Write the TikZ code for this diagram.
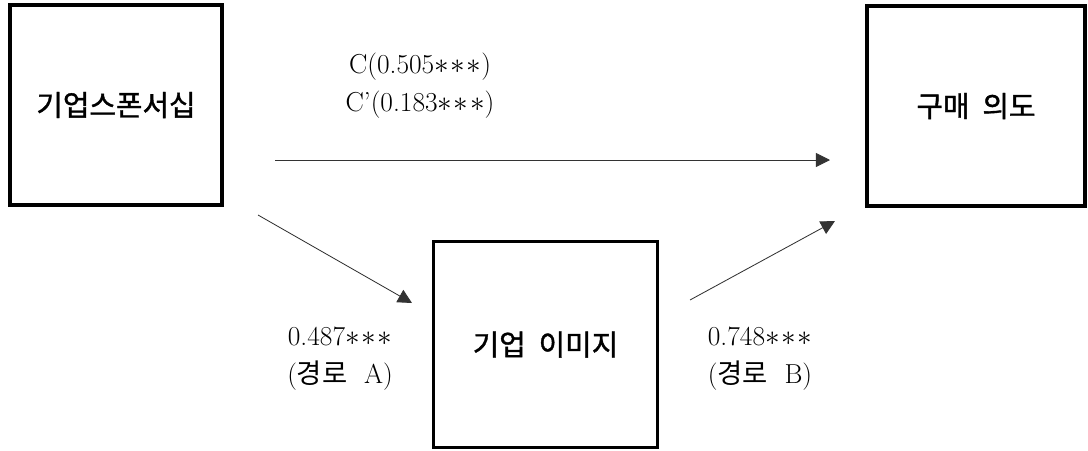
\documentclass[tikz,border=0pt]{standalone}
\usepackage{fontspec}
\usepackage{tikz}
\usetikzlibrary{arrows.meta,positioning}
\newfontfamily\cjk{Noto Sans CJK KR}
\newfontfamily\cjkbold[FakeBold=1.3]{Noto Sans CJK KR}

\begin{document}
\begin{tikzpicture}[
    x=0.025cm, y=-0.025cm,
    varbox/.style={rectangle, draw, line width=2.2pt, inner sep=0pt,
                   font=\cjkbold\fontsize{20.5}{24}\selectfont},
    coef/.style={align=center, inner sep=0pt,
                 font=\fontsize{19.5}{27}\selectfont},
    arrow/.style={-{Triangle[length=10pt,width=10pt]}, line width=0.6pt,
                  draw=black!80},
]
    \useasboundingbox (0,0) rectangle (1088,450);
    \node[varbox, minimum width=5.3cm, minimum height=5cm] (spon) at (116,105)
         {기업스폰서십};
    \node[varbox, minimum width=5.45cm, minimum height=5cm] (intent) at (976,106)
         {구매~~의도};
    \node[varbox, minimum width=5.6cm, minimum height=5.15cm] (image) at (545.5,344.5)
         {기업~~이미지};
    \coordinate (cStart) at (275,160);
    \coordinate (cEnd) at (830,160);
    \coordinate (aStart) at (258,215);
    \coordinate (aEnd) at (412,303);
    \coordinate (bStart) at (690,300);
    \coordinate (bEnd) at (835,221);
    \node[coef] (cLbl) at (420,86)
         {C(0.505$\ast\!\ast\!\ast$)\\C'(0.183$\ast\!\ast\!\ast$)};
    \node[coef] (aLbl) at (340,359) {0.487$\ast\!\ast\!\ast$\\({\cjk 경로}~~A)};
    \node[coef] (bLbl) at (760,359) {0.748$\ast\!\ast\!\ast$\\({\cjk 경로}~~B)};
    \draw[arrow] (cStart) -- (cEnd);
    \draw[arrow] (aStart) -- (aEnd);
    \draw[arrow] (bStart) -- (bEnd);
\end{tikzpicture}
\end{document}
